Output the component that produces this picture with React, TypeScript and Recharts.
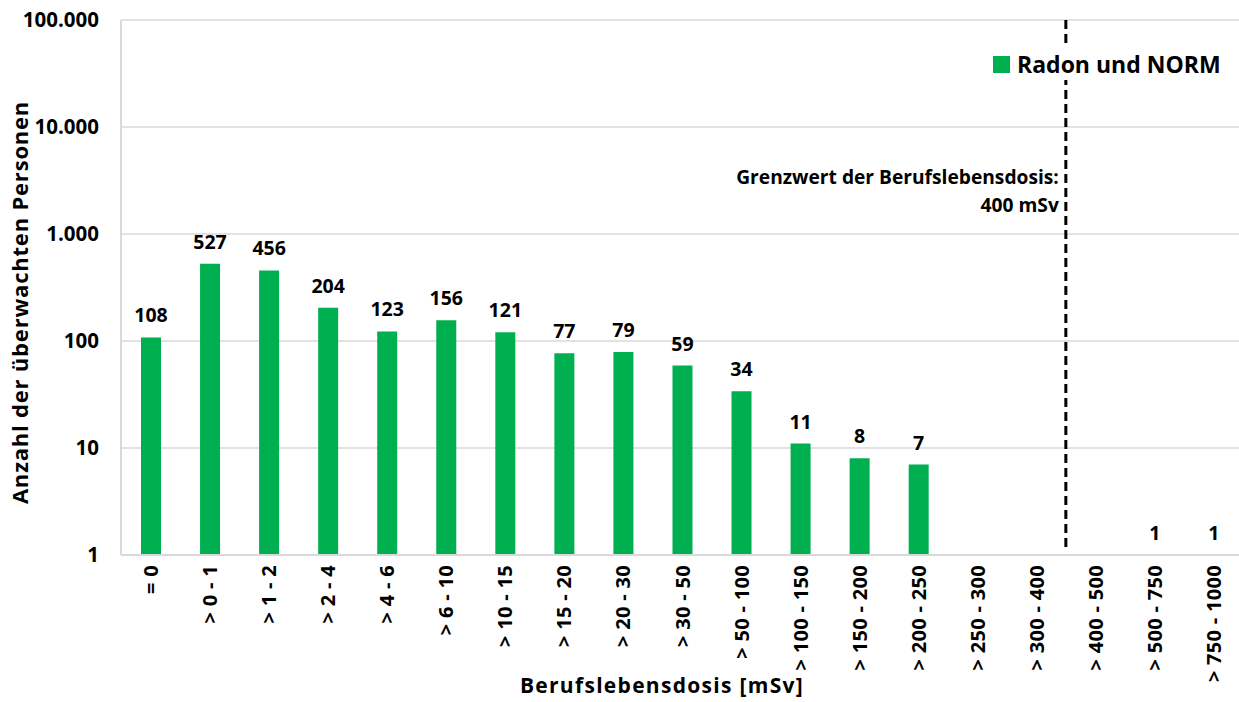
import React from 'react';
import {
  BarChart,
  Bar,
  XAxis,
  YAxis,
  CartesianGrid,
  ReferenceLine,
  LabelList,
  Label,
} from 'recharts';

const categories = [
  '= 0', '> 0 - 1', '> 1 - 2', '> 2 - 4', '> 4 - 6', '> 6 - 10', '> 10 - 15',
  '> 15 - 20', '> 20 - 30', '> 30 - 50', '> 50 - 100', '> 100 - 150',
  '> 150 - 200', '> 200 - 250', '> 250 - 300', '> 300 - 400', '> 400 - 500',
  '> 500 - 750', '> 750 - 1000',
];

// null = no persons in this range (cannot be shown on a log axis)
const radonNorm: (number | null)[] = [
  108, 527, 456, 204, 123, 156, 121, 77, 79, 59, 34, 11, 8, 7, null, null, null, 1, 1,
];

const yTicks = [1, 10, 100, 1000, 10000, 100000];

const data = categories.map((label, idx) => ({ idx, label, value: radonNorm[idx] }));

const FONT = '"Open Sans", sans-serif';
const GREEN = '#00B050';
const GRID = '#D9D9D9';

const fmt = (v: number) => v.toLocaleString('de-DE');

function XTick(props: any) {
  const { x, y, payload } = props;
  const ty = y + 2;
  return (
    <text
      x={x}
      y={ty}
      transform={`rotate(-90, ${x}, ${ty})`}
      textAnchor="end"
      dominantBaseline="central"
      fontFamily={FONT}
      fontWeight={700}
      fontSize={20}
      letterSpacing={0.3}
      fill="#000"
    >
      {categories[payload.value]}
    </text>
  );
}

function ValueLabel(props: any) {
  const { x, y, width, value } = props;
  if (value == null) return null;
  return (
    <text
      x={x + width / 2}
      y={y - 15}
      textAnchor="middle"
      fontFamily={FONT}
      fontWeight={700}
      fontSize={19.5}
      fill="#000"
    >
      {value}
    </text>
  );
}

function YTitle(props: any) {
  const { viewBox } = props;
  const cx = 19;
  const cy = viewBox.y + viewBox.height / 2 + 15;
  return (
    <text
      x={cx}
      y={cy}
      transform={`rotate(-90, ${cx}, ${cy})`}
      textAnchor="middle"
      dominantBaseline="central"
      fontFamily={FONT}
      fontWeight={700}
      fontSize={22}
      letterSpacing={0.8}
      fill="#000"
    >
      Anzahl der überwachten Personen
    </text>
  );
}

function LimitLabel(props: any) {
  const { viewBox } = props;
  const x = viewBox.x - 7;
  const y = viewBox.y;
  return (
    <g fontFamily={FONT} fontWeight={700} fontSize={19.2} fill="#000" textAnchor="end">
      <text x={x} y={y + 164}>Grenzwert der Berufslebensdosis:</text>
      <text x={x} y={y + 192}>400 mSv</text>
    </g>
  );
}

export default function App() {
  return (
    <div style={{ position: 'absolute', left: 0, top: 0, width: 1239, height: 702, background: '#fff', overflow: 'hidden' }}>
      <BarChart
        width={1239}
        height={702}
        data={data}
        margin={{ top: 20, right: -4, left: 0, bottom: 0 }}
      >
        <CartesianGrid vertical={false} stroke={GRID} strokeWidth={1.5} />
        <XAxis
          dataKey="idx"
          type="number"
          domain={[-0.5, 18.5]}
          ticks={categories.map((_, i) => i)}
          interval={0}
          height={147}
          tickLine={false}
          axisLine={{ stroke: GRID, strokeWidth: 2 }}
          tick={<XTick />}
        >
          <Label
            value="Berufslebensdosis [mSv]"
            position="insideBottom"
            offset={9}
            dx={-20}
            style={{ fontFamily: FONT, fontWeight: 700, fontSize: 21, letterSpacing: 1.3, fill: '#000' }}
          />
        </XAxis>
        <YAxis
          scale="log"
          domain={[1, 100000]}
          ticks={yTicks}
          allowDataOverflow
          width={121}
          tickLine={false}
          axisLine={{ stroke: GRID, strokeWidth: 2 }}
          tickFormatter={fmt}
          tick={{ fontFamily: FONT, fontWeight: 700, fontSize: 20.5, fill: '#000' }}
          tickMargin={16}
        >
          <Label content={<YTitle />} />
        </YAxis>
        <Bar
          dataKey="value"
          name="Radon und NORM"
          fill={GREEN}
          barSize={20}
          minPointSize={0.1}
          isAnimationActive={false}
        >
          <LabelList dataKey="value" content={<ValueLabel />} />
        </Bar>
        <ReferenceLine
          segment={[{ x: 15.5, y: 100000 }, { x: 15.5, y: 1.15 }]}
          stroke="#000"
          strokeWidth={3}
          strokeDasharray="9 5"
          label={<LimitLabel />}
        />
      </BarChart>
      <div
        style={{
          position: 'absolute',
          left: 990,
          top: 48,
          display: 'flex',
          alignItems: 'center',
          background: '#fff',
          padding: '2px 3px',
          fontFamily: FONT,
          fontWeight: 700,
          fontSize: 23,
          lineHeight: '28px',
          color: '#000',
        }}
      >
        <span style={{ width: 17, height: 17, background: GREEN, marginRight: 7, display: 'inline-block' }} />
        Radon und NORM
      </div>
    </div>
  );
}
